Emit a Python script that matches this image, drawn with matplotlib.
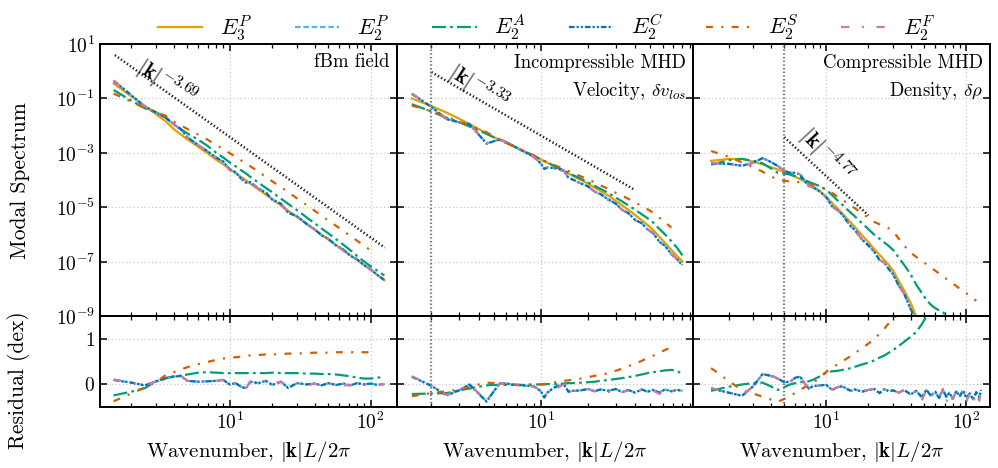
import numpy as np
import matplotlib.pyplot as plt
from matplotlib.ticker import NullLocator

plt.rcParams.update({
    "font.family": "serif",
    "font.serif": ["cmr10"],
    "mathtext.fontset": "cm",
    "axes.formatter.use_mathtext": True,
    "font.size": 14,
    "lines.scale_dashes": False,
})

# ---- data (log10 of spectra, residuals in dex) ----
# fBm field
k_fbm = [1.5, 2, 2.5, 3, 3.5, 4, 4.5, 5, 6, 7, 8, 9, 10, 11, 12, 13, 14, 16, 18, 20,
         23, 26, 30, 35, 40, 45, 50, 57, 64, 72, 80, 90, 100, 112, 125]
e3p_fbm = [-0.45, -0.92, -1.28, -1.58, -1.83, -2.12, -2.32, -2.50, -2.78, -3.02, -3.25, -3.42,
           -3.6, -3.74, -3.88, -4.0, -4.13, -4.34, -4.53, -4.7, -4.92, -5.12, -5.35, -5.6,
           -5.82, -6.01, -6.18, -6.39, -6.57, -6.76, -6.93, -7.12, -7.29, -7.48, -7.67]
r2c_fbm = [0.1, 0.04, -0.02, 0.07, 0.13, 0.17, 0.19, 0.08, 0.06, 0.07, 0.08, 0.1, 0.0, 0.03,
           -0.05, -0.09, 0.06, 0.03, 0.08, -0.01, 0.06, -0.08, 0.03, 0.0, 0.02, -0.02, 0.03,
           -0.01, 0.02, -0.02, 0.03, 0.0, 0.02, -0.01, 0.01]
r2p_fbm = [0.1, 0.04, -0.02, 0.07, 0.13, 0.17, 0.19, 0.08, 0.06, 0.07, 0.08, 0.1, 0.0, 0.03,
           -0.05, -0.08, 0.06, 0.03, 0.08, -0.01, 0.06, -0.07, 0.03, 0.0, 0.02, -0.02, 0.03,
           -0.01, 0.02, -0.02, 0.03, 0.0, 0.02, -0.01, 0.01]
r2f_fbm = [0.11, 0.04, -0.02, 0.07, 0.13, 0.17, 0.19, 0.08, 0.06, 0.07, 0.08, 0.1, -0.04, 0.03,
           -0.05, -0.09, 0.06, 0.03, 0.08, -0.01, 0.06, -0.03, 0.03, -0.03, 0.02, -0.02, 0.03,
           -0.01, -0.02, -0.02, 0.03, 0.0, 0.02, -0.01, 0.01]
r2a_fbm = [-0.24, -0.16, -0.08, 0.07, 0.14, 0.18, 0.19, 0.22, 0.26, 0.27, 0.26, 0.25, 0.25,
           0.25, 0.25, 0.25, 0.25, 0.25, 0.25, 0.26, 0.25, 0.25, 0.25, 0.24, 0.24, 0.23, 0.23,
           0.22, 0.2, 0.18, 0.15, 0.13, 0.13, 0.15, 0.17]
r2s_fbm = [-0.37, -0.2, -0.07, 0.06, 0.2, 0.27, 0.33, 0.38, 0.45, 0.5, 0.54, 0.57, 0.59, 0.6,
           0.61, 0.63, 0.64, 0.65, 0.66, 0.66, 0.67, 0.68, 0.68, 0.69, 0.7, 0.7, 0.7, 0.71,
           0.71, 0.71, 0.71, 0.71, 0.71, np.nan, np.nan]

# Incompressible MHD, velocity
k_vel = [1.5, 2, 2.5, 3, 3.5, 4, 4.5, 5, 5.5, 6, 7, 8, 9, 10, 10.5, 11, 12, 13, 14, 15, 16,
         18, 20, 22, 24, 27, 30, 33, 36, 40, 44, 48, 52, 57, 62, 68, 74, 80]
e3p_vel = [-1.0, -1.28, -1.52, -1.74, -1.94, -2.12, -2.28, -2.42, -2.53, -2.62, -2.80, -2.96,
           -3.10, -3.24, -3.30, -3.36, -3.47, -3.57, -3.66, -3.75, -3.84, -3.99, -4.13, -4.27,
           -4.40, -4.57, -4.76, -4.92, -5.08, -5.28, -5.47, -5.65, -5.82, -6.08, -6.30, -6.56,
           -6.78, -6.98]
r2c_vel = [0.17, -0.03, -0.24, -0.13, 0.0, -0.2, -0.38, -0.15, 0.03, 0.02, -0.01, -0.03, -0.04,
           -0.15, -0.29, -0.18, -0.08, -0.02, 0.01, -0.16, -0.14, -0.13, -0.1, -0.15, -0.11,
           -0.14, -0.1, -0.17, -0.12, -0.18, -0.11, -0.16, -0.12, -0.18, -0.11, -0.15, -0.12, -0.14]
r2p_vel = [0.17, -0.03, -0.24, -0.13, 0.0, -0.2, -0.37, -0.15, 0.03, 0.02, -0.01, -0.03, -0.04,
           -0.15, -0.28, -0.18, -0.08, -0.02, 0.01, -0.16, -0.14, -0.13, -0.1, -0.15, -0.11,
           -0.14, -0.1, -0.17, -0.12, -0.18, -0.11, -0.16, -0.12, -0.18, -0.11, -0.15, -0.12, -0.14]
r2f_vel = [0.18, -0.02, -0.23, -0.12, 0.0, -0.19, -0.36, -0.14, 0.03, 0.02, -0.01, -0.03, -0.04,
           -0.14, -0.28, -0.17, -0.08, -0.06, 0.0, -0.15, -0.14, -0.15, -0.1, -0.15, -0.12,
           -0.17, -0.1, -0.17, -0.13, -0.2, -0.11, -0.16, -0.13, -0.21, -0.11, -0.15, -0.13, -0.14]
r2a_vel = [-0.21, -0.2, -0.19, -0.13, -0.09, -0.05, -0.02, -0.01, -0.01, -0.01, -0.01, -0.01,
           0.0, 0.0, 0.0, 0.01, 0.01, 0.01, 0.02, 0.03, 0.03, 0.04, 0.05, 0.06, 0.08, 0.1, 0.12,
           0.14, 0.16, 0.19, 0.22, 0.25, 0.27, 0.29, 0.31, 0.32, 0.3, 0.22]
r2s_vel = [-0.26, -0.19, -0.15, -0.11, -0.06, 0.0, 0.04, 0.03, 0.01, 0.0, -0.01, -0.01, 0.0,
           0.0, 0.01, 0.02, 0.04, 0.06, 0.08, 0.09, 0.11, 0.13, 0.16, 0.19, 0.21, 0.25, 0.3,
           0.35, 0.4, 0.46, 0.52, 0.58, 0.63, 0.7, 0.76, 0.82, np.nan, np.nan]

# Compressible MHD, density
k_rho = [1.5, 2, 2.5, 3, 3.5, 4, 4.5, 5, 5.5, 6, 6.5, 7, 7.5, 8, 9, 10, 11, 12, 13, 14, 15, 16,
         18, 20, 22, 24, 26, 28, 30, 33, 36, 40, 44, 48, 52, 56, 60, 64, 68, 72, 76, 80, 85, 90,
         95, 100, 106, 112, 118, 124, 128]
e3p_rho = [-3.29, -3.22, -3.22, -3.32, -3.42, -3.52, -3.61, -3.70, -3.79, -3.88, -3.96, -4.05,
           -4.13, -4.22, -4.40, -4.62, -4.84, -5.04, -5.22, -5.40, -5.56, -5.72, -6.02, -6.28,
           -6.53, -6.74, -6.93, -7.12, -7.32, -7.7, -8.05, -8.5, -9.0, -9.45, -9.9, -10.3, -10.7,
           -11.05, -11.4, -11.7, -12.0, -12.3, -12.6, -12.9, -13.2, -13.45, -13.75, -14.0, -14.25,
           -14.5, -14.65]
r2c_rho = [-0.09, -0.18, -0.25, -0.04, 0.23, 0.19, 0.13, 0.05, 0.06, 0.15, 0.17, 0.02, -0.09,
           -0.04, -0.02, -0.01, -0.12, -0.06, -0.04, -0.1, -0.14, -0.11, -0.16, -0.12, -0.1,
           -0.19, -0.1, -0.15, -0.13, -0.18, -0.12, -0.22, -0.14, -0.28, -0.12, -0.25, -0.16,
           -0.3, -0.11, -0.27, -0.18, -0.32, -0.15, -0.26, -0.13, -0.3, -0.2, -0.33, -0.17,
           -0.28, -0.12]
r2p_rho = [-0.09, -0.18, -0.25, -0.04, 0.23, 0.19, 0.13, 0.05, 0.06, 0.15, 0.17, 0.02, -0.09,
           -0.04, -0.02, -0.01, -0.12, -0.06, -0.04, -0.1, -0.14, -0.11, -0.16, -0.12, -0.1,
           -0.19, -0.1, -0.15, -0.13, -0.18, -0.12, -0.22, -0.14, -0.27, -0.12, -0.25, -0.16,
           -0.3, -0.11, -0.27, -0.18, -0.31, -0.15, -0.26, -0.13, -0.3, -0.2, -0.33, -0.17,
           -0.28, -0.12]
r2f_rho = [-0.08, -0.18, -0.25, -0.04, 0.22, 0.21, 0.13, 0.05, 0.06, 0.15, 0.17, 0.02, -0.07,
           -0.04, -0.02, -0.01, -0.12, -0.06, -0.04, -0.1, -0.14, -0.11, -0.16, -0.12, -0.1,
           -0.19, -0.1, -0.15, -0.13, -0.18, -0.12, -0.22, -0.14, -0.36, -0.12, -0.25, -0.16,
           -0.3, -0.11, -0.4, -0.18, -0.32, -0.15, -0.26, -0.13, -0.38, -0.2, -0.4, -0.17,
           -0.36, -0.12]
r2a_rho = [-0.14, -0.05, 0.0, 0.03, 0.04, -0.04, -0.12, -0.06, 0.0, 0.03, 0.05, 0.06, 0.07, 0.1,
           0.18, 0.26, 0.29, 0.3, 0.32, 0.34, 0.36, 0.39, 0.44, 0.48, 0.53, 0.59, 0.64, 0.7, 0.76,
           0.85, 0.94, 1.05, 1.16, 1.32, 1.5, 1.72, 2.0, 2.27, 2.55, 2.75, 2.95, 3.15, 3.35,
           3.55, 3.75, 3.9, 4.1, 4.3, 4.5, 4.7, 4.8]
r2s_rho = [0.36, 0.08, -0.13, -0.2, -0.27, -0.33, -0.38, -0.32, -0.26, -0.18, -0.12, -0.06,
           -0.01, 0.03, 0.16, 0.28, 0.37, 0.44, 0.51, 0.57, 0.63, 0.69, 0.80, 0.90, 1.0, 1.12,
           1.23, 1.35, 1.45, 1.55, 1.65, 1.84, 2.18, 2.49, 2.81, 3.09, 3.38, 3.62, 3.87, 4.08,
           4.29, 4.51, 4.71, 4.92, 5.13, 5.3, 5.5, 5.66, 5.82, np.nan, np.nan]

# power-law guides: amplitude, slope, k range
fit_amp = [18.8, 9.3, 8.2]
fit_slope = [-3.69, -3.33, -4.77]
fit_kmin = [1.53, 2.0, 5.0]
fit_kmax = [126, 39, 20]
vline_k = [None, 2.0, 5.0]

titles = ["fBm field", "Incompressible MHD\nVelocity, $\\delta v_{los}$",
          "Compressible MHD\nDensity, $\\delta\\rho$"]
fit_labels = ["$|\\mathbf{k}|^{-3.69}$", "$|\\mathbf{k}|^{-3.33}$", "$|\\mathbf{k}|^{-4.77}$"]
xlims = [(1.2, 153), (1.2, 94), (1.12, 148)]

names = ["$E_3^P$", "$E_2^P$", "$E_2^A$", "$E_2^C$", "$E_2^S$", "$E_2^F$"]
colors = ["#E69F00", "#56B4E9", "#009E73", "#0072B2", "#D55E00", "#CC79A7"]
styles = ["-", (0, (4, 2)), (0, (10, 3, 2, 3)), (0, (4, 1.5, 1.5, 1.5, 1.5, 1.5)),
          (0, (5, 6, 1.5, 6)), (0, (6, 9, 1.5, 9))]

ks = [k_fbm, k_vel, k_rho]
e3ps = [e3p_fbm, e3p_vel, e3p_rho]
res = [[r2p_fbm, r2a_fbm, r2c_fbm, r2s_fbm, r2f_fbm],
       [r2p_vel, r2a_vel, r2c_vel, r2s_vel, r2f_vel],
       [r2p_rho, r2a_rho, r2c_rho, r2s_rho, r2f_rho]]

fig = plt.figure(figsize=(9.98, 4.68), dpi=100)
gs = fig.add_gridspec(2, 3, height_ratios=[3, 1], hspace=0, wspace=0,
                      left=0.1002, right=0.992, top=0.906, bottom=0.130)
top_axes, bot_axes = [], []
for i in range(3):
    at = fig.add_subplot(gs[0, i], sharey=top_axes[0] if i else None)
    ab = fig.add_subplot(gs[1, i], sharex=at, sharey=bot_axes[0] if i else None)
    top_axes.append(at)
    bot_axes.append(ab)

handles = []
for i in range(3):
    at, ab = top_axes[i], bot_axes[i]
    k = np.array(ks[i])
    base = np.array(e3ps[i])
    h, = at.plot(k, 10 ** base, color=colors[0], ls=styles[0], lw=1.6)
    hs = [h]
    for j, r in enumerate(res[i]):
        r = np.array(r)
        h, = at.plot(k, 10 ** (base + r), color=colors[j + 1], ls=styles[j + 1], lw=1.6)
        ab.plot(k, r, color=colors[j + 1], ls=styles[j + 1], lw=1.6)
        hs.append(h)
    if i == 0:
        handles = hs

    kk = np.geomspace(fit_kmin[i], fit_kmax[i], 50)
    at.plot(kk, fit_amp[i] * kk ** fit_slope[i], color="#222222", ls=":", lw=1.8)
    if vline_k[i] is not None:
        at.axvline(vline_k[i], color="#777777", ls=":", lw=1.6)
        ab.axvline(vline_k[i], color="#777777", ls=":", lw=1.6)

    at.text(0.975, 0.965, titles[i], transform=at.transAxes, ha="right", va="top",
            fontsize=13.5, linespacing=1.5)

    for ax in (at, ab):
        ax.set_xscale("log")
        ax.grid(True, which="major", color="#cccccc", ls=":", lw=0.9)
        ax.tick_params(which="both", direction="in", top=True, right=True)
        ax.tick_params(which="major", length=5, width=1.1)
        ax.tick_params(which="minor", length=3, width=0.9)
        for s in ax.spines.values():
            s.set_linewidth(1.4)
    at.set_xlim(*xlims[i])
    at.tick_params(labelbottom=False)
    ab.set_xlabel("Wavenumber, $|\\mathbf{k}|L/2\\pi$", fontsize=15)
    if i > 0:
        at.tick_params(labelleft=False)
        ab.tick_params(labelleft=False)

# power-law labels
top_axes[0].text(1.95, 10 ** -0.25, fit_labels[0], rotation=-33, rotation_mode="anchor",
                 ha="left", va="bottom", fontsize=16)
top_axes[1].text(2.35, 10 ** -0.45, fit_labels[1], rotation=-33, rotation_mode="anchor",
                 ha="left", va="bottom", fontsize=16)
top_axes[2].text(5.7, 10 ** -2.6, fit_labels[2], rotation=-47, rotation_mode="anchor",
                 ha="left", va="bottom", fontsize=16)

top_axes[0].set_yscale("log")
top_axes[0].set_ylim(1e-9, 1e1)
top_axes[0].set_yticks([1e1, 1e-1, 1e-3, 1e-5, 1e-7, 1e-9])
top_axes[0].yaxis.set_minor_locator(NullLocator())
bot_axes[0].set_ylim(-0.5, 1.5)
bot_axes[0].set_yticks([0, 1])
top_axes[0].set_ylabel("Modal Spectrum", fontsize=15.5)
bot_axes[0].set_ylabel("Residual (dex)", fontsize=15.5)
top_axes[0].yaxis.set_label_coords(-0.235, 0.5)
bot_axes[0].yaxis.set_label_coords(-0.235, 0.3)

fig.legend(handles, names, loc="upper center", ncol=6, frameon=False,
           bbox_to_anchor=(0.548, 1.015), handlelength=2.0, handletextpad=0.8,
           columnspacing=1.9, fontsize=16)

fig.savefig("out.png", dpi=100)
